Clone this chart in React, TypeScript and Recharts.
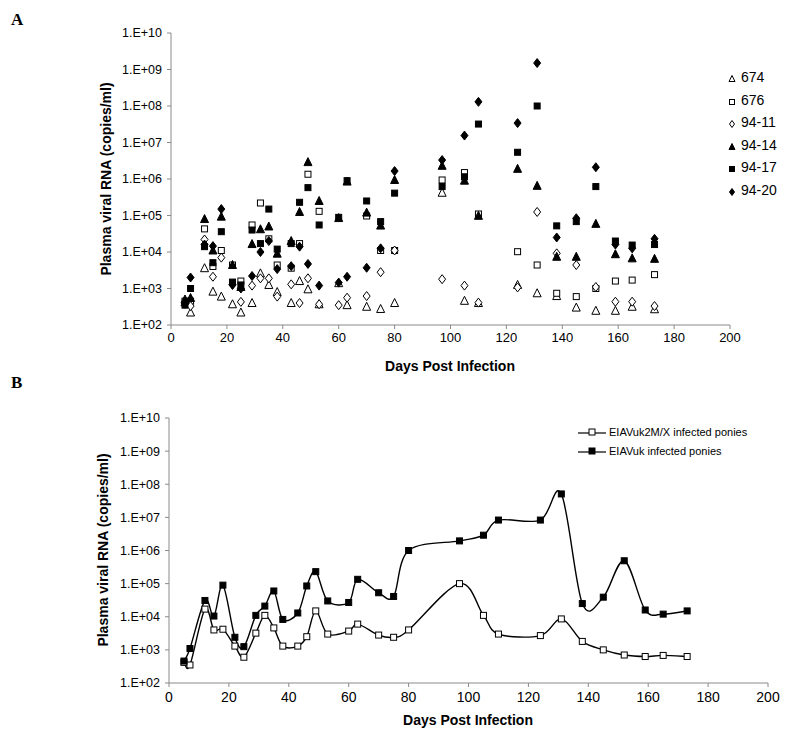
import React from 'react';
import {
  ScatterChart,
  Scatter,
  LineChart,
  Line,
  XAxis,
  YAxis,
} from 'recharts';

// sampling days (days post infection)
const days = [5, 7, 12, 15, 18, 22, 25, 29, 32, 35, 38, 43, 46, 49, 53, 60, 63, 70, 75, 80, 97, 105, 110, 124, 131, 138, 145, 152, 159, 165, 173];

// panel A: individual ponies
const s674 = [420, 220, 3600, 820, 600, 370, 220, 400, 2600, 1250, 800, 400, 1600, 950, 370, 1400, 350, 316, 275, 400, 420000, 460, 400, 1250, 740, 620, 300, 245, 245, 316, 270];
const s676 = [450, 450, 43000, 4000, 11000, 4400, 1600, 55000, 220000, 23000, 4400, 3600, 17000, 1350000, 130000, null, null, 97000, 11000, 11000, 940000, 1500000, 110000, 10200, 4400, 740, 600, 1000, 1600, 1700, 2400];
const s9411 = [380, 330, 22000, 2100, 7000, 1300, 430, 1200, 1900, 1900, 600, 1300, 400, 1900, 370, 350, 560, 620, 2800, 11000, 1800, 1200, 410, 1070, 125000, 9200, 4400, 1100, 435, 435, 330];
const s9414 = [500, 550, 80000, 11000, 93000, 4400, 1100, 16500, 42000, 50000, 9000, 20000, 125000, 2900000, 250000, 85000, 850000, 120000, 53000, 940000, 2300000, 900000, 98000, 1900000, 650000, 7400, 7400, 59000, 8700, 6700, 6500];
const s9417 = [350, 1000, 14000, 5100, 36000, 1500, 1250, 40000, 17000, 150000, 12000, 17000, 230000, 580000, 55000, 89000, 900000, 250000, 68000, 410000, 620000, 1150000, 32000000, 5400000, 100000000, 52000, 68000, 620000, 20000, 15500, 16000];
const s9420 = [400, 2000, 16000, 14500, 150000, 1250, 1000, 2200, 10000, 20000, 3400, 4100, 14000, 4700, 1200, 1450, 2100, 3700, 12600, 1650000, 3300000, 15500000, 130000000, 34000000, 1500000000, 25000, 84000, 2100000, 16000, 12600, 23000];

// panel B: group means
const meanMX = [420, 350, 17000, 4000, 4200, 1300, 600, 3200, 11000, 4600, 1300, 1300, 2500, 15000, 3000, 3700, 6000, 2800, 2400, 4000, 100000, 11000, 3000, 2700, 8600, 1800, 1000, 700, 630, 680, 630];
const meanUK = [460, 1100, 31000, 10500, 90000, 2400, 1250, 11000, 21000, 60000, 8300, 13000, 85000, 230000, 30000, 27000, 135000, 53000, 41000, 1000000, 1950000, 2900000, 8300000, 8300000, 51000000, 25000, 39000, 490000, 16000, 12000, 15000];

const yTicks = [1e2, 1e3, 1e4, 1e5, 1e6, 1e7, 1e8, 1e9, 1e10];
const xTicks = [0, 20, 40, 60, 80, 100, 120, 140, 160, 180, 200];

const FONT = '"Liberation Sans", Arial, sans-serif';

const fmtExp = (v: number) => '1.E+' + String(Math.round(Math.log10(v))).padStart(2, '0');

const toPoints = (vals: (number | null)[]) =>
  days.map((d, i) => ({ x: d, y: vals[i] })).filter((p) => p.y != null);

type Kind = 'triangle' | 'square' | 'diamond';

const Marker = ({ cx, cy, kind, filled, size = 6 }: { cx: number; cy: number; kind: Kind; filled: boolean; size?: number }) => {
  if (cx == null || cy == null) return null;
  const h = size / 2;
  const st = { fill: filled ? '#000' : '#fff', stroke: '#000', strokeWidth: 1 };
  if (kind === 'square') return <rect x={cx - h} y={cy - h} width={size} height={size} {...st} />;
  if (kind === 'triangle')
    return <polygon points={`${cx},${cy - h - 1} ${cx + h + 0.5},${cy + h} ${cx - h - 0.5},${cy + h}`} {...st} />;
  return <polygon points={`${cx},${cy - h - 1} ${cx + h},${cy} ${cx},${cy + h + 1} ${cx - h},${cy}`} {...st} />;
};

// Excel-like smoothed line (Catmull-Rom through every point)
const smoothCurve = (context: any) => {
  let pts: number[][] = [];
  return {
    areaStart() {},
    areaEnd() {},
    lineStart() {
      pts = [];
    },
    point(x: number, y: number) {
      pts.push([+x, +y]);
    },
    lineEnd() {
      if (!pts.length) return;
      context.moveTo(pts[0][0], pts[0][1]);
      for (let i = 0; i < pts.length - 1; i++) {
        const p0 = pts[Math.max(0, i - 1)];
        const p1 = pts[i];
        const p2 = pts[i + 1];
        const p3 = pts[Math.min(pts.length - 1, i + 2)];
        context.bezierCurveTo(
          p1[0] + (p2[0] - p0[0]) / 6,
          p1[1] + (p2[1] - p0[1]) / 6,
          p2[0] - (p3[0] - p1[0]) / 6,
          p2[1] - (p3[1] - p1[1]) / 6,
          p2[0],
          p2[1]
        );
      }
    },
  };
};

const seriesA: { name: string; vals: (number | null)[]; kind: Kind; filled: boolean }[] = [
  { name: '674', vals: s674, kind: 'triangle', filled: false },
  { name: '676', vals: s676, kind: 'square', filled: false },
  { name: '94-11', vals: s9411, kind: 'diamond', filled: false },
  { name: '94-14', vals: s9414, kind: 'triangle', filled: true },
  { name: '94-17', vals: s9417, kind: 'square', filled: true },
  { name: '94-20', vals: s9420, kind: 'diamond', filled: true },
];

const tableB = days.map((d, i) => ({ day: d, mx: meanMX[i], uk: meanUK[i] }));

const axisStroke = '#8a8a8a';

const abs = (left: number, top: number, extra: React.CSSProperties = {}): React.CSSProperties => ({
  position: 'absolute',
  left,
  top,
  ...extra,
});

const SmallIcon = ({ kind, filled }: { kind: Kind; filled: boolean }) => (
  <svg width={10} height={10} style={{ display: 'block' }}>
    <Marker cx={5} cy={5} kind={kind} filled={filled} size={5} />
  </svg>
);

const LineIcon = ({ filled }: { filled: boolean }) => (
  <svg width={30} height={10} style={{ display: 'block' }}>
    <line x1={1} y1={6} x2={29} y2={6} stroke="#000" strokeWidth={1.2} />
    <Marker cx={15} cy={5} kind="square" filled={filled} size={6} />
  </svg>
);

const App = () => {
  return (
    <div style={abs(0, 0, { width: 800, height: 742, background: '#fff', fontFamily: FONT })}>
      {/* Panel A */}
      <div style={abs(11, 10, { fontFamily: '"Liberation Serif", serif', fontWeight: 'bold', fontSize: 17 })}>A</div>
      <div style={abs(0, 0)}>
        <ScatterChart width={800} height={380} margin={{ top: 33, right: 70, bottom: 25, left: 111 }}>
          <XAxis
            type="number"
            dataKey="x"
            domain={[0, 200]}
            ticks={xTicks}
            interval={0}
            height={30}
            stroke={axisStroke}
            tickSize={4}
            tickMargin={4}
            tick={{ fill: '#000', fontSize: 13, fontFamily: FONT }}
          />
          <YAxis
            type="number"
            dataKey="y"
            scale="log"
            domain={[1e2, 1e10]}
            allowDataOverflow
            ticks={yTicks}
            interval={0}
            width={60}
            stroke={axisStroke}
            tickSize={4}
            tickMargin={5}
            tickFormatter={fmtExp}
            tick={{ fill: '#000', fontSize: 12.5, fontFamily: FONT }}
          />
          {seriesA.map((s) => (
            <Scatter
              key={s.name}
              name={s.name}
              data={toPoints(s.vals)}
              isAnimationActive={false}
              shape={(p: any) => <Marker cx={p.cx} cy={p.cy} kind={s.kind} filled={s.filled} size={s.kind === 'square' ? 6 : 7} />}
            />
          ))}
        </ScatterChart>
      </div>
      <div
        style={abs(106, 179, {
          transform: 'translate(-50%, -50%) rotate(-90deg)',
          fontWeight: 'bold',
          fontSize: 14,
          whiteSpace: 'nowrap',
        })}
      >
        Plasma viral RNA (copies/ml)
      </div>
      <div style={abs(450, 366, { transform: 'translate(-50%, -50%)', fontWeight: 'bold', fontSize: 14, whiteSpace: 'nowrap' })}>
        Days Post Infection
      </div>
      <div style={abs(727, 66)}>
        {seriesA.map((s) => (
          <div key={s.name} style={{ display: 'flex', alignItems: 'center', height: 22.5, fontSize: 14 }}>
            <div style={{ width: 14, marginTop: 4 }}>
              <SmallIcon kind={s.kind} filled={s.filled} />
            </div>
            <span>{s.name}</span>
          </div>
        ))}
      </div>

      {/* Panel B */}
      <div style={abs(11, 373, { fontFamily: '"Liberation Serif", serif', fontWeight: 'bold', fontSize: 17 })}>B</div>
      <div style={abs(0, 380)}>
        <LineChart width={800} height={362} data={tableB} margin={{ top: 38, right: 32, bottom: 29, left: 109 }}>
          <XAxis
            type="number"
            dataKey="day"
            domain={[0, 200]}
            ticks={xTicks}
            interval={0}
            height={30}
            stroke={axisStroke}
            tickSize={4}
            tickMargin={5}
            tick={{ fill: '#000', fontSize: 14, fontFamily: FONT }}
          />
          <YAxis
            type="number"
            scale="log"
            domain={[1e2, 1e10]}
            allowDataOverflow
            ticks={yTicks}
            interval={0}
            width={60}
            stroke={axisStroke}
            tickSize={4}
            tickMargin={5}
            tickFormatter={fmtExp}
            tick={{ fill: '#000', fontSize: 12.5, fontFamily: FONT }}
          />
          <Line
            dataKey="mx"
            type={smoothCurve as any}
            stroke="#000"
            strokeWidth={1.4}
            isAnimationActive={false}
            dot={(p: any) => <Marker key={'mx' + p.index} cx={p.cx} cy={p.cy} kind="square" filled={false} size={6} />}
          />
          <Line
            dataKey="uk"
            type={smoothCurve as any}
            stroke="#000"
            strokeWidth={1.4}
            isAnimationActive={false}
            dot={(p: any) => <Marker key={'uk' + p.index} cx={p.cx} cy={p.cy} kind="square" filled={true} size={6} />}
          />
        </LineChart>
      </div>
      <div
        style={abs(103, 550, {
          transform: 'translate(-50%, -50%) rotate(-90deg)',
          fontWeight: 'bold',
          fontSize: 14,
          whiteSpace: 'nowrap',
        })}
      >
        Plasma viral RNA (copies/ml)
      </div>
      <div style={abs(468, 720, { transform: 'translate(-50%, -50%)', fontWeight: 'bold', fontSize: 14, whiteSpace: 'nowrap' })}>
        Days Post Infection
      </div>
      <div style={abs(577, 422, { fontSize: 11 })}>
        <div style={{ display: 'flex', alignItems: 'center', height: 19 }}>
          <LineIcon filled={false} />
          <span style={{ marginLeft: 2 }}>EIAVuk2M/X infected ponies</span>
        </div>
        <div style={{ display: 'flex', alignItems: 'center', height: 19 }}>
          <LineIcon filled={true} />
          <span style={{ marginLeft: 2 }}>EIAVuk infected ponies</span>
        </div>
      </div>
    </div>
  );
};

export default App;
